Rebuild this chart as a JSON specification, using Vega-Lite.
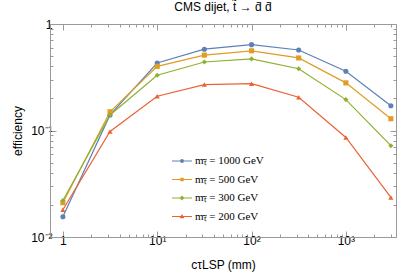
{
  "$schema": "https://vega.github.io/schema/vega-lite/v6.json",
  "autosize": {"type": "none"},
  "width": 346,
  "height": 213,
  "padding": {"left": 50, "top": 24, "right": 3, "bottom": 40},
  "background": "white",
  "title": {"text": "CMS dijet, t\u0303 \u2192 d\u0304 d\u0304", "font": "Liberation Sans", "fontSize": 12, "fontWeight": "normal", "color": "#000", "offset": 4},
  "config": {
    "view": {"stroke": "#9a9a9a", "strokeWidth": 1},
    "axis": {"domainColor": "#9a9a9a", "tickColor": "#9a9a9a", "labelFont": "Liberation Sans", "labelFontSize": 12, "labelColor": "#000", "titleFont": "Liberation Sans", "titleFontSize": 12, "titleFontWeight": "normal", "titleColor": "#000", "grid": false, "labelFlush": false, "labelOverlap": false}
  },
  "data": {"values": [
    {"s": "m\u209c\u0303 = 1000 GeV", "x": 1, "y": 0.0155},
    {"s": "m\u209c\u0303 = 1000 GeV", "x": 3.16, "y": 0.14},
    {"s": "m\u209c\u0303 = 1000 GeV", "x": 10, "y": 0.43},
    {"s": "m\u209c\u0303 = 1000 GeV", "x": 31.6, "y": 0.58},
    {"s": "m\u209c\u0303 = 1000 GeV", "x": 100, "y": 0.64},
    {"s": "m\u209c\u0303 = 1000 GeV", "x": 316, "y": 0.57},
    {"s": "m\u209c\u0303 = 1000 GeV", "x": 1000, "y": 0.36},
    {"s": "m\u209c\u0303 = 1000 GeV", "x": 3000, "y": 0.171},
    {"s": "m\u209c\u0303 = 500 GeV", "x": 1, "y": 0.021},
    {"s": "m\u209c\u0303 = 500 GeV", "x": 3.16, "y": 0.15},
    {"s": "m\u209c\u0303 = 500 GeV", "x": 10, "y": 0.40},
    {"s": "m\u209c\u0303 = 500 GeV", "x": 31.6, "y": 0.51},
    {"s": "m\u209c\u0303 = 500 GeV", "x": 100, "y": 0.56},
    {"s": "m\u209c\u0303 = 500 GeV", "x": 316, "y": 0.48},
    {"s": "m\u209c\u0303 = 500 GeV", "x": 1000, "y": 0.28},
    {"s": "m\u209c\u0303 = 500 GeV", "x": 3000, "y": 0.129},
    {"s": "m\u209c\u0303 = 300 GeV", "x": 1, "y": 0.022},
    {"s": "m\u209c\u0303 = 300 GeV", "x": 3.16, "y": 0.14},
    {"s": "m\u209c\u0303 = 300 GeV", "x": 10, "y": 0.33},
    {"s": "m\u209c\u0303 = 300 GeV", "x": 31.6, "y": 0.44},
    {"s": "m\u209c\u0303 = 300 GeV", "x": 100, "y": 0.47},
    {"s": "m\u209c\u0303 = 300 GeV", "x": 316, "y": 0.38},
    {"s": "m\u209c\u0303 = 300 GeV", "x": 1000, "y": 0.195},
    {"s": "m\u209c\u0303 = 300 GeV", "x": 3000, "y": 0.072},
    {"s": "m\u209c\u0303 = 200 GeV", "x": 1, "y": 0.018},
    {"s": "m\u209c\u0303 = 200 GeV", "x": 3.16, "y": 0.098},
    {"s": "m\u209c\u0303 = 200 GeV", "x": 10, "y": 0.21},
    {"s": "m\u209c\u0303 = 200 GeV", "x": 31.6, "y": 0.27},
    {"s": "m\u209c\u0303 = 200 GeV", "x": 100, "y": 0.275},
    {"s": "m\u209c\u0303 = 200 GeV", "x": 316, "y": 0.205},
    {"s": "m\u209c\u0303 = 200 GeV", "x": 1000, "y": 0.086},
    {"s": "m\u209c\u0303 = 200 GeV", "x": 3000, "y": 0.0235}
  ]},
  "resolve": {"scale": {"x": "independent", "y": "independent", "shape": "independent", "color": "independent"}},
  "layer": [
    {
      "mark": {"type": "line", "strokeWidth": 1.2, "clip": true},
      "encoding": {
        "x": {"field": "x", "type": "quantitative", "scale": {"type": "log", "domain": [0.73, 3400], "nice": false},
          "axis": {"orient": "bottom", "title": "c\u03c4LSP (mm)", "titlePadding": 10,
            "values": [1,2,3,4,5,6,7,8,9,10,20,30,40,50,60,70,80,90,100,200,300,400,500,600,700,800,900,1000,2000,3000],
            "labelExpr": "datum.value == 1 ? '1' : datum.value == 10 ? '10\u00b9' : datum.value == 100 ? '10\u00b2' : datum.value == 1000 ? '10\u00b3' : ''",
            "tickSize": {"condition": {"test": "indexof([1,10,100,1000], datum.value) >= 0", "value": -6}, "value": -3},
            "labelPadding": 4}},
        "y": {"field": "y", "type": "quantitative", "scale": {"type": "log", "domain": [0.01, 1], "nice": false},
          "axis": {"orient": "left", "title": "efficiency", "titlePadding": 6,
            "values": [0.01,0.02,0.03,0.04,0.05,0.06,0.07,0.08,0.09,0.1,0.2,0.3,0.4,0.5,0.6,0.7,0.8,0.9,1],
            "labelExpr": "datum.value == 1 ? '1' : datum.value == 0.1 ? '10\u207b\u00b9' : datum.value == 0.01 ? '10\u207b\u00b2' : ''",
            "tickSize": {"condition": {"test": "indexof([0.01,0.1,1], datum.value) >= 0", "value": -6}, "value": -3},
            "labelPadding": 4}},
        "color": {"field": "s", "type": "nominal",
          "scale": {"domain": ["m\u209c\u0303 = 1000 GeV", "m\u209c\u0303 = 500 GeV", "m\u209c\u0303 = 300 GeV", "m\u209c\u0303 = 200 GeV"], "range": ["#5e81b5", "#e19c24", "#8fb032", "#eb6235"]},
          "legend": null}
      }
    },
    {
      "mark": {"type": "point", "filled": true, "size": 26, "opacity": 1, "clip": true},
      "encoding": {
        "x": {"field": "x", "type": "quantitative", "scale": {"type": "log", "domain": [0.73, 3400], "nice": false},
          "axis": {"orient": "top", "title": null, "labels": false, "domain": false,
            "values": [1,2,3,4,5,6,7,8,9,10,20,30,40,50,60,70,80,90,100,200,300,400,500,600,700,800,900,1000,2000,3000],
            "tickSize": {"condition": {"test": "indexof([1,10,100,1000], datum.value) >= 0", "value": -6}, "value": -3}}},
        "y": {"field": "y", "type": "quantitative", "scale": {"type": "log", "domain": [0.01, 1], "nice": false},
          "axis": {"orient": "right", "title": null, "labels": false, "domain": false,
            "values": [0.01,0.02,0.03,0.04,0.05,0.06,0.07,0.08,0.09,0.1,0.2,0.3,0.4,0.5,0.6,0.7,0.8,0.9,1],
            "tickSize": {"condition": {"test": "indexof([0.01,0.1,1], datum.value) >= 0", "value": -6}, "value": -3}}},
        "color": {"field": "s", "type": "nominal",
          "scale": {"domain": ["m\u209c\u0303 = 1000 GeV", "m\u209c\u0303 = 500 GeV", "m\u209c\u0303 = 300 GeV", "m\u209c\u0303 = 200 GeV"], "range": ["#5e81b5", "#e19c24", "#8fb032", "#eb6235"]},
          "legend": null},
        "shape": {"field": "s", "type": "nominal",
          "scale": {"domain": ["m\u209c\u0303 = 1000 GeV", "m\u209c\u0303 = 500 GeV", "m\u209c\u0303 = 300 GeV", "m\u209c\u0303 = 200 GeV"], "range": ["circle", "square", "diamond", "triangle-up"]},
          "legend": null}
      }
    },
    {
      "mark": {"type": "point", "filled": true, "size": 22, "opacity": 0, "clip": true},
      "encoding": {
        "x": {"field": "x", "type": "quantitative", "scale": {"type": "log", "domain": [0.73, 3400], "nice": false}, "axis": null},
        "y": {"field": "y", "type": "quantitative", "scale": {"type": "log", "domain": [0.01, 1], "nice": false}, "axis": null},
        "color": {"field": "s", "type": "nominal",
          "scale": {"domain": ["m\u209c\u0303 = 1000 GeV", "m\u209c\u0303 = 500 GeV", "m\u209c\u0303 = 300 GeV", "m\u209c\u0303 = 200 GeV"], "range": ["#5e81b5", "#e19c24", "#8fb032", "#eb6235"]},
          "legend": {"orient": "none", "legendX": 122, "legendY": 127, "title": null, "symbolSize": 400, "symbolOpacity": 1, "symbolStrokeWidth": 0, "labelFont": "Liberation Serif", "labelFontSize": 11, "labelColor": "#000", "rowPadding": 3.5, "labelOffset": 3, "padding": 0}},
        "shape": {"field": "s", "type": "nominal",
          "scale": {"domain": ["m\u209c\u0303 = 1000 GeV", "m\u209c\u0303 = 500 GeV", "m\u209c\u0303 = 300 GeV", "m\u209c\u0303 = 200 GeV"],
            "range": [
              "M-1,-0.06H1V0.06H-1ZM-0.2,0A0.2,0.2 0 1 1 0.2,0A0.2,0.2 0 1 1 -0.2,0Z",
              "M-1,-0.06H1V0.06H-1ZM-0.17,-0.17H0.17V0.17H-0.17Z",
              "M-1,-0.06H1V0.06H-1ZM0,-0.24L0.24,0L0,0.24L-0.24,0Z",
              "M-1,-0.06H1V0.06H-1ZM0,-0.24L0.24,0.18L-0.24,0.18Z"
            ]},
          "legend": {"orient": "none", "legendX": 122, "legendY": 127, "title": null, "symbolSize": 400, "symbolOpacity": 1, "symbolStrokeWidth": 0, "labelFont": "Liberation Serif", "labelFontSize": 11, "labelColor": "#000", "rowPadding": 3.5, "labelOffset": 3, "padding": 0}}
      }
    }
  ]
}
